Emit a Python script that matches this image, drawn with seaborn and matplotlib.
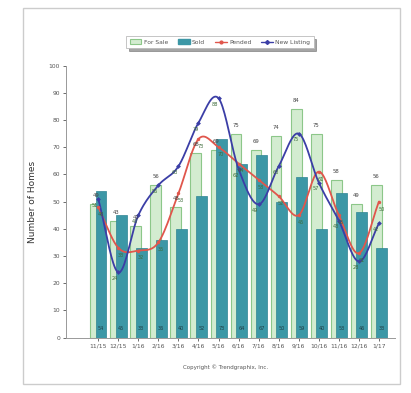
import numpy as np
import pandas as pd
import matplotlib
matplotlib.use("Agg")
import matplotlib.pyplot as plt
from matplotlib.patches import Rectangle
import seaborn as sns

# Monthly housing statistics
months = ["11/15", "12/15", "1/16", "2/16", "3/16", "4/16", "5/16", "6/16",
          "7/16", "8/16", "9/16", "10/16", "11/16", "12/16", "1/17"]
for_sale = [49, 43, 41, 56, 48, 68, 69, 75, 69, 74, 84, 75, 58, 49, 56]
sold = [54, 45, 33, 36, 40, 52, 73, 64, 67, 50, 59, 40, 53, 46, 33]
pended = [48, 33, 32, 35, 53, 73, 70, 64, 58, 52, 45, 61, 45, 31, 50]
new_listing = [51, 24, 45, 56, 63, 79, 88, 62, 49, 63, 75, 57, 43, 28, 42]

SALE_FILL = "#d3ecd0"
SALE_EDGE = "#8cc789"
SOLD_FILL = "#3c97a6"
PEND_COL = "#e0564c"
NEW_COL = "#3b3ea6"
TXT = "#444444"

sns.set_theme(style="white")
plt.rcParams["font.family"] = ["DejaVu Sans"]

fig = plt.figure(figsize=(4.11, 3.93), dpi=100)
ax = fig.add_axes([0.161, 0.141, 0.80, 0.692])

idx = np.arange(len(months))
df = pd.DataFrame({"pos": idx, "month": months, "for_sale": for_sale,
                   "sold": sold, "pended": pended, "new_listing": new_listing})

# Overlapping bars: inventory behind, sales in front
sns.barplot(data=df.assign(x=df["pos"] - 0.13), x="x", y="for_sale",
            native_scale=True, width=0.54, color=SALE_FILL,
            edgecolor=SALE_EDGE, linewidth=0.8, saturation=1, ax=ax, zorder=2)
sns.barplot(data=df.assign(x=df["pos"] + 0.14), x="x", y="sold",
            native_scale=True, width=0.54, color=SOLD_FILL,
            edgecolor="#2f8593", linewidth=0.5, saturation=1, ax=ax, zorder=3)


def smooth(xs, ys, n=20):
    """Catmull-Rom curve through the given points (for drawing only)."""
    xs = np.asarray(xs, float)
    ys = np.asarray(ys, float)
    px = np.concatenate([[2 * xs[0] - xs[1]], xs, [2 * xs[-1] - xs[-2]]])
    py = np.concatenate([[2 * ys[0] - ys[1]], ys, [2 * ys[-1] - ys[-2]]])
    ox, oy = [], []
    t = np.linspace(0, 1, n, endpoint=False)
    for i in range(1, len(px) - 2):
        for arr, out in ((px, ox), (py, oy)):
            p0, p1, p2, p3 = arr[i - 1], arr[i], arr[i + 1], arr[i + 2]
            out.extend(0.5 * ((2 * p1) + (-p0 + p2) * t
                              + (2 * p0 - 5 * p1 + 4 * p2 - p3) * t ** 2
                              + (-p0 + 3 * p1 - 3 * p2 + p3) * t ** 3))
    ox.append(xs[-1])
    oy.append(ys[-1])
    return np.array(ox), np.array(oy)


# Smoothed trend lines with point markers and value labels
line_specs = (("pended", PEND_COL, "o", -1.8, 0.12),
              ("new_listing", NEW_COL, "D", -1.4, -0.16))
for col, color, marker, dy, dx in line_specs:
    sx, sy = smooth(df["pos"], df[col])
    ax.plot(sx, sy, color=color, lw=1.3, zorder=5)
    sns.scatterplot(data=df, x="pos", y=col, color=color, marker=marker,
                    s=6, linewidth=0, ax=ax, zorder=6)
    for x, v in zip(df["pos"], df[col]):
        ax.text(x + dx, v + dy, f"{v}", ha="center", va="top",
                fontsize=3.6, color="#3d6b3a", zorder=7)

# Value labels for the bars
for x, v in zip(idx, for_sale):
    ax.text(x - 0.13, v + 2.2, f"{v}", ha="center", va="bottom",
            fontsize=3.8, color=TXT, zorder=7)
for x, v in zip(idx, sold):
    ax.text(x + 0.14, 3.2, f"{v}", ha="center", va="center",
            fontsize=3.6, color="#1f3d44", zorder=7)

ax.set_xlim(-1.6, 14.8)
ax.set_ylim(0, 100)
ax.set_yticks(range(0, 101, 10))
ax.set_xticks(idx)
ax.set_xticklabels(months)
ax.tick_params(axis="both", labelsize=4.3, colors="#555555", length=2.5,
               width=0.6, pad=2, direction="out")
ax.tick_params(axis="y", left=True)
ax.tick_params(axis="x", bottom=True)
for side in ("top", "right"):
    ax.spines[side].set_visible(False)
for side in ("left", "bottom"):
    ax.spines[side].set_color("#999999")
    ax.spines[side].set_linewidth(0.7)
ax.set_xlabel("")
ax.set_ylabel("Number of Homes", fontsize=6.5, color="#333333", labelpad=8)

# Legend
handles = [
    Rectangle((0, 0), 1, 1, facecolor=SALE_FILL, edgecolor=SALE_EDGE, lw=0.8),
    Rectangle((0, 0), 1, 1, facecolor=SOLD_FILL, edgecolor=SOLD_FILL),
    plt.Line2D([], [], color=PEND_COL, lw=1.0, marker="o", markersize=2),
    plt.Line2D([], [], color=NEW_COL, lw=1.0, marker="D", markersize=2),
]
leg = fig.legend(handles, ["For Sale", "Sold", "Pended", "New Listing"],
                 loc="center", bbox_to_anchor=(0.535, 0.893), ncol=4,
                 fontsize=4.3, frameon=True, fancybox=False, shadow=True,
                 edgecolor="#bbbbbb", handlelength=2.0, handleheight=0.9,
                 columnspacing=1.6, handletextpad=0.4, borderpad=0.55)
leg.get_frame().set_linewidth(0.6)
for t in leg.get_texts():
    t.set_color("#555555")

fig.text(0.548, 0.066, "Copyright \u00a9 Trendgraphix, Inc.", ha="center",
         va="center", fontsize=4.0, color="#555555")

# Outer chart frame
fig.patches.append(Rectangle((0.056, 0.022), 0.918, 0.957, transform=fig.transFigure,
                             fill=False, edgecolor="#cccccc", lw=1.0, zorder=0))

fig.savefig("out.png", dpi=100, facecolor="white")
